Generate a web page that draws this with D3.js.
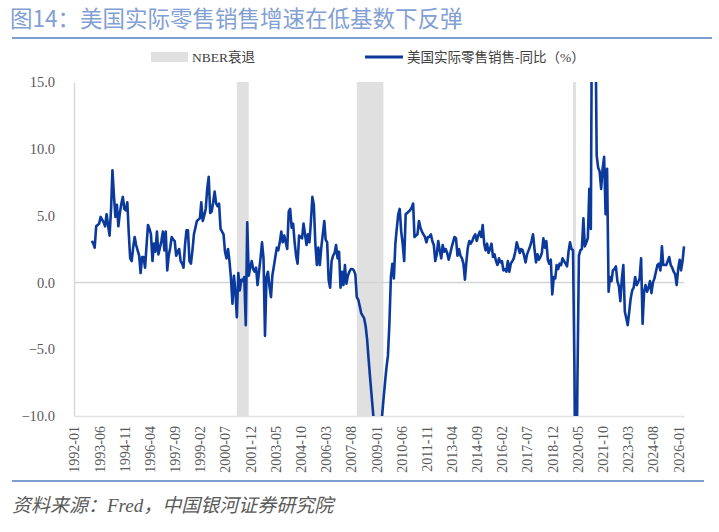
<!DOCTYPE html>
<html>
<head>
<meta charset="utf-8">
<script src="https://cdn.jsdelivr.net/npm/d3@7"></script>
<style>
  body { margin: 0; background: #fff; }
  svg { display: block; }
</style>
</head>
<body>
<script>
// 美国实际零售销售 同比(%), monthly, first value = 1993-01
const firstMonth = '1993-01';
const values1990s = [
  3.1, 2.9, 2.6, 4.2, 4.3, 4.4, 4.9, 4.7, 4.5, 4.2, 5.1, 4.3,
  3.5, 5.5, 8.4, 6.5, 4.9, 5.8, 4.2, 5.2, 5.9, 6.4, 5.5, 5.4,
  6.0, 3.6, 1.8, 1.6, 2.6, 3.4, 2.8, 2.4, 2.0, 0.7, 1.9, 1.9,
  1.1, 2.8, 4.3, 4.0, 3.6, 1.6, 2.9, 2.3, 3.8, 2.1, 2.6, 3.1,
  3.8, 2.4, 3.8, 0.9, 2.0, 2.6, 3.4, 3.2, 3.1, 2.0, 2.3, 2.5,
  1.6, 1.4, 1.1, 2.8, 3.9, 3.9, 1.6, 1.4, 2.4, 3.6, 4.1, 4.6,
  4.7, 4.8, 6.0, 4.6, 5.0, 5.5, 7.0, 7.9, 5.2, 5.3, 6.0, 6.8
];
const values2000s = [
  5.9, 5.7, 5.9, 4.0, 3.8, 3.6, 2.3, 1.8, 2.5, 1.6, 0.3, -1.6,
  0.5, -0.8, -2.6, 0.7, -0.6, 0.2, 0.1, 0.4, -3.2, 4.5, 0.5, 1.1,
  1.6, 1.0, 0.8, 1.1, -0.2, 0.8, 1.8, 3.0, 1.8, -4.0, 0.4, 0.8,
  -0.3, -1.1, 0.5, 1.2, 1.9, 2.6, 2.4, 3.0, 3.8, 3.0, 3.5, 3.0,
  2.5, 5.3, 5.5, 4.1, 4.4, 3.0, 2.0, 1.4, 3.5, 3.4, 3.3, 4.4,
  3.6, 2.8, 3.6, 3.0, 4.5, 6.4, 5.8, 2.9, 1.3, 2.6, 1.3, 2.6,
  3.6, 4.6, 3.2, 3.0, 0.2, -0.4, 1.6, 2.0, 2.2, 2.8, 1.8, 2.3,
  -0.4, 0.8, -0.2, 1.3, -0.1, 0.5, 0.8, 1.0, 1.0, 0.9, 0.6, -1.1,
  -1.3, -1.8, -2.3, -2.5, -2.7, -3.3, -4.3, -5.8, -7.2, -8.5, -9.8, -11.5,
  -11.0, -10.8, -11.2, -10.6, -10.1, -8.8, -7.6, -6.4, -5.5, -3.1, 0.4, 1.4
];
const values2010s = [
  0.3, 2.9, 4.0, 5.1, 5.5, 3.8, 2.9, 1.6, 5.1, 5.2, 5.3, 5.4,
  5.6, 5.9, 3.4, 3.5, 3.6, 4.6, 4.1, 3.8, 3.6, 3.4, 3.0, 3.4,
  3.4, 3.6, 3.1, 2.8, 1.6, 2.1, 3.1, 2.4, 1.8, 2.8, 2.3, 2.5,
  2.2, 1.7, 2.1, 2.6, 3.0, 3.4, 3.3, 2.0, 2.5, 2.0, 1.8, 1.4,
  0.2, 1.6, 2.6, 3.1, 2.9, 3.1, 3.4, 3.6, 3.1, 3.5, 3.8, 3.4,
  4.3, 2.9, 2.4, 2.9, 2.2, 2.5, 2.9, 1.9, 2.1, 1.6, 1.3, 1.8,
  1.5, 1.6, 0.9, 1.0, 0.8, 1.6, 0.8, 1.4, 1.6, 1.8, 2.3, 3.0,
  2.6, 2.2, 2.5, 2.4, 2.0, 1.5, 2.1, 2.4, 2.7, 3.1, 3.6, 2.5,
  1.5, 2.1, 1.7, 1.9, 2.2, 3.3, 2.6, 3.1, 1.7, 1.4, 1.7, -0.9,
  0.4, 0.3, 1.3, 1.0, 1.4, 1.3, 1.8, 1.6, 1.4, 1.2, 2.3, 3.0
];
const values2020s = [
  2.5, 2.4, -6.5, -20.0, -7.5, 2.0, 2.4, 2.5, 4.8, 2.7, 3.0, 3.3,
  7.0, 4.0, 25.0, 46.0, 22.0, 9.5, 8.6, 8.3, 7.0, 8.5, 9.4, 5.1,
  8.5, -0.7, 0.4, 0.1, 0.9, 1.0, 1.2, 0.1, -0.3, -1.4, 0.3, 1.3,
  -2.2, -2.7, -3.2, -2.2, -1.2, -0.6, -0.4, 0.4, -0.2, 0.0, 0.3, 1.8,
  -3.1, -0.7, -0.2, -0.7, -0.4, 0.1, -0.8, 0.0, 0.3, 0.8, 1.3, 1.4,
  0.9, 2.7, 1.3, 1.3, 1.3, 1.6, 1.9, 1.3, 1.1, 0.8, 0.6, -0.2,
  1.0, 1.7, 0.9, 1.6, 2.7
];

// NBER recessions
const nberStart = ['2001-03', '2007-12', '2020-02'];
const nberEnd = ['2001-11', '2009-06', '2020-04'];

const axisStart = '1992-01';
const axisEnd = '2026-05';
const xTickLabels = [
  '1992-01', '1993-06', '1994-11', '1996-04', '1997-09', '1999-02', '2000-07',
  '2001-12', '2003-05', '2004-10', '2006-03', '2007-08', '2009-01', '2010-06',
  '2011-11', '2013-04', '2014-09', '2016-02', '2017-07', '2018-12', '2020-05',
  '2021-10', '2023-03', '2024-08', '2026-01'
];
const yTicks = [-10, -5, 0, 5, 10, 15];

const titleText = '图14：美国实际零售销售增速在低基数下反弹';
const legendNber = 'NBER衰退';
const legendSeries = '美国实际零售销售-同比（%）';
const sourceText = '资料来源：Fred，中国银河证券研究院';

const parseMonth = d3.timeParse('%Y-%m');
const allValues = values1990s.concat(values2000s, values2010s, values2020s);
const start = parseMonth(firstMonth);
const series = allValues.map((v, i) => ({ date: d3.timeMonth.offset(start, i), value: v }));

const width = 719;
const height = 532;
const plot = { left: 74, right: 684, top: 82, bottom: 416 };
const blueRule = '#7e9dd0';
const lineBlue = '#0b3a9c';
const serifFont = '"Liberation Serif", "Noto Sans CJK SC", serif';

const svg = d3.select('body')
  .append('svg')
  .attr('width', width)
  .attr('height', height);

// Title + rules
svg.append('text')
  .attr('x', 10)
  .attr('y', 27)
  .attr('font-family', '"Noto Sans CJK SC", sans-serif')
  .attr('font-size', 22.5)
  .attr('fill', '#82a0d3')
  .text(titleText);

svg.append('line')
  .attr('x1', 12).attr('x2', 712)
  .attr('y1', 38).attr('y2', 38)
  .attr('stroke', blueRule)
  .attr('stroke-width', 2);

svg.append('line')
  .attr('x1', 12).attr('x2', 704)
  .attr('y1', 481).attr('y2', 481)
  .attr('stroke', blueRule)
  .attr('stroke-width', 2);

svg.append('text')
  .attr('x', 12)
  .attr('y', 512)
  .attr('font-family', serifFont)
  .attr('font-style', 'italic')
  .attr('font-size', 19)
  .attr('fill', '#595959')
  .text(sourceText);

// Legend
svg.append('rect')
  .attr('x', 151).attr('y', 52)
  .attr('width', 37).attr('height', 10)
  .attr('fill', '#e0e0e0');
svg.append('text')
  .attr('x', 192).attr('y', 62)
  .attr('font-family', serifFont)
  .attr('font-size', 13.5)
  .attr('fill', '#404040')
  .text(legendNber);
svg.append('line')
  .attr('x1', 365).attr('x2', 403)
  .attr('y1', 57).attr('y2', 57)
  .attr('stroke', lineBlue)
  .attr('stroke-width', 2.8);
svg.append('text')
  .attr('x', 407).attr('y', 62)
  .attr('font-family', serifFont)
  .attr('font-size', 13.5)
  .attr('fill', '#404040')
  .text(legendSeries);

// Scales
const xScale = d3.scaleTime()
  .domain([parseMonth(axisStart), parseMonth(axisEnd)])
  .range([plot.left, plot.right]);

const yScale = d3.scaleLinear()
  .domain([-10, 15])
  .range([plot.bottom, plot.top]);

// Recession bands
svg.append('g')
  .selectAll('rect')
  .data(nberStart.map((s, i) => [parseMonth(s), parseMonth(nberEnd[i])]))
  .enter()
  .append('rect')
  .attr('x', (d) => xScale(d[0]))
  .attr('width', (d) => xScale(d[1]) - xScale(d[0]))
  .attr('y', yScale(15))
  .attr('height', yScale(-10) - yScale(15))
  .attr('fill', '#e0e0e0');

// Zero line
svg.append('line')
  .attr('x1', plot.left).attr('x2', plot.right)
  .attr('y1', yScale(0)).attr('y2', yScale(0))
  .attr('stroke', '#d4d4d4')
  .attr('stroke-width', 1.5);

// Axes
const yAxis = d3.axisLeft(yScale)
  .tickValues(yTicks)
  .tickFormat(d3.format('.1f'))
  .tickSize(0)
  .tickPadding(19);
const yG = svg.append('g')
  .attr('transform', 'translate(' + plot.left + ',0)')
  .call(yAxis);
yG.select('.domain').attr('stroke', '#d9d9d9').attr('stroke-width', 1.5);
yG.selectAll('text')
  .attr('font-family', serifFont)
  .attr('font-size', 14.5)
  .attr('fill', '#595959');

const xAxis = d3.axisBottom(xScale)
  .tickValues(xTickLabels.map(parseMonth))
  .tickFormat(d3.timeFormat('%Y-%m'))
  .tickSize(0);
const xG = svg.append('g')
  .attr('transform', 'translate(0,' + plot.bottom + ')')
  .call(xAxis);
xG.select('.domain').attr('stroke', '#e3e3e3').attr('stroke-width', 1.5);
xG.selectAll('text')
  .attr('transform', 'rotate(-90)')
  .attr('x', -10)
  .attr('y', 0)
  .attr('dy', '0.35em')
  .attr('text-anchor', 'end')
  .attr('font-family', serifFont)
  .attr('font-size', 14)
  .attr('fill', '#595959');

// Series line, clipped to the plot area
svg.append('clipPath')
  .attr('id', 'plot-clip')
  .append('rect')
  .attr('x', plot.left)
  .attr('y', plot.top)
  .attr('width', plot.right - plot.left + 2)
  .attr('height', plot.bottom - plot.top);

const line = d3.line()
  .x((d) => xScale(d.date))
  .y((d) => yScale(d.value));

svg.append('path')
  .datum(series)
  .attr('clip-path', 'url(#plot-clip)')
  .attr('fill', 'none')
  .attr('stroke', lineBlue)
  .attr('stroke-width', 2.6)
  .attr('stroke-linejoin', 'round')
  .attr('d', line);
</script>
</body>
</html>
